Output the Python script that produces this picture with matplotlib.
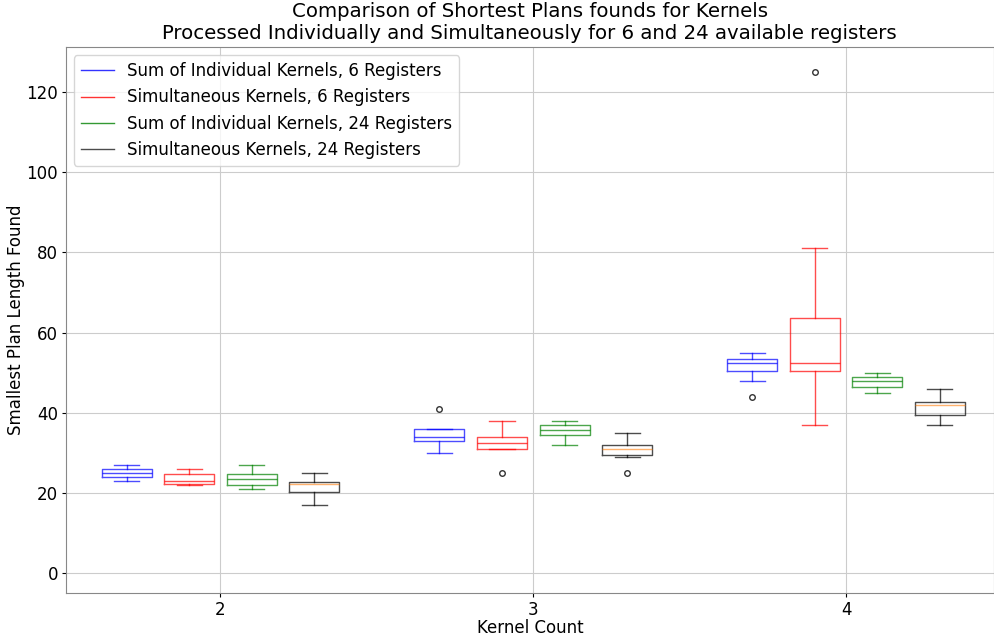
import matplotlib.pyplot as plt
from matplotlib.lines import Line2D

# kernel counts on x axis
kernel_counts = [2, 3, 4]

series_names = ["Sum of Individual Kernels, 6 Registers",
                "Simultaneous Kernels, 6 Registers",
                "Sum of Individual Kernels, 24 Registers",
                "Simultaneous Kernels, 24 Registers"]
series_colors = ["blue", "red", "green", "black"]

# box stats, per series, per kernel count
# (whislo, q1, med, q3, whishi, fliers)
ind6_stats = [(23, 24, 25, 26, 27, []),
              (30, 33, 34, 36, 36, [41]),
              (48, 50.5, 52.5, 53.5, 55, [44])]
sim6_stats = [(22, 22.25, 23, 24.75, 26, []),
              (31, 31, 32.5, 34, 38, [25]),
              (37, 50.5, 52.5, 63.5, 81, [125])]
ind24_stats = [(21, 22, 23.5, 24.75, 27, []),
               (32, 34.5, 35.75, 37, 38, []),
               (45, 46.5, 48, 49, 50, [])]
sim24_stats = [(17, 20.25, 22.25, 22.75, 25, []),
               (29, 29.5, 31, 32, 35, [25]),
               (37, 39.5, 42, 42.75, 46, [])]

all_stats = [ind6_stats, sim6_stats, ind24_stats, sim24_stats]
offsets = [-0.3, -0.1, 0.1, 0.3]

fig, ax = plt.subplots(figsize=(9.95, 6.37), dpi=100)
fig.subplots_adjust(left=0.066, right=0.999, top=0.926, bottom=0.069)

for stats, color, off in zip(all_stats, series_colors, offsets):
    bxp_stats = []
    for k, s in zip(kernel_counts, stats):
        bxp_stats.append({"whislo": s[0], "q1": s[1], "med": s[2],
                          "q3": s[3], "whishi": s[4], "fliers": s[5]})
    props = dict(color=color, alpha=0.7)
    med = dict(color=color, alpha=0.7)
    if color == "black":
        med = dict(color="C1", alpha=0.6)
    ax.bxp(bxp_stats, positions=[k + off for k in kernel_counts], widths=0.16,
           boxprops=props, whiskerprops=props, capprops=props, medianprops=med,
           flierprops=dict(marker="o", markersize=4, markeredgecolor="black",
                           markerfacecolor="none", alpha=0.8),
           manage_ticks=False)

ax.set_xticks(kernel_counts)
ax.set_xticklabels([str(k) for k in kernel_counts])
ax.set_xlim(1.505, 4.473)
ax.set_ylim(-5, 131.2)
ax.tick_params(labelsize=12, length=3, pad=2.5)
ax.grid(True, color="#cccccc")
ax.set_axisbelow(True)
for sp in ax.spines.values():
    sp.set_color("#888888")

ax.set_xlabel("Kernel Count", fontsize=12, labelpad=0)
ax.set_ylabel("Smallest Plan Length Found", fontsize=12, labelpad=1)
ax.set_title("Comparison of Shortest Plans founds for Kernels\n"
             "Processed Individually and Simultaneously for 6 and 24 available registers",
             fontsize=14.2)

handles = [Line2D([], [], color=c, alpha=0.8 if c != "black" else 0.7, lw=1) for c in series_colors]
ax.legend(handles, series_names, loc="upper left", fontsize=12)

plt.savefig("out.png")
